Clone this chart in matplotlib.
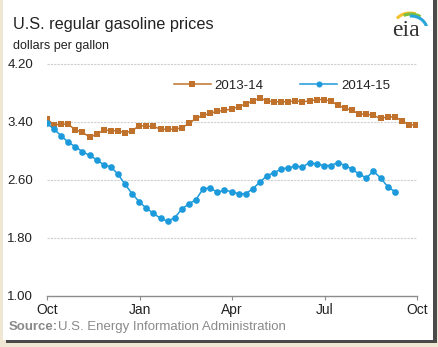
import matplotlib
matplotlib.use("Agg")
import matplotlib.pyplot as plt
from matplotlib.patches import Rectangle, Arc
import numpy as np

plt.rcParams['font.family'] = ['Liberation Sans', 'DejaVu Sans']

# weekly prices, dollars per gallon
prices_2013_14 = [3.44, 3.36, 3.37, 3.37, 3.29, 3.26, 3.19, 3.23, 3.29, 3.28,
                  3.28, 3.25, 3.28, 3.35, 3.34, 3.34, 3.30, 3.30, 3.30, 3.32,
                  3.38, 3.45, 3.49, 3.52, 3.55, 3.56, 3.58, 3.61, 3.65, 3.69,
                  3.73, 3.69, 3.68, 3.68, 3.68, 3.69, 3.68, 3.69, 3.71, 3.71,
                  3.69, 3.63, 3.59, 3.56, 3.51, 3.51, 3.49, 3.45, 3.47, 3.47,
                  3.42, 3.36, 3.36]
prices_2014_15 = [3.38, 3.30, 3.21, 3.12, 3.06, 2.99, 2.94, 2.88, 2.81, 2.78,
                  2.68, 2.54, 2.41, 2.30, 2.21, 2.14, 2.07, 2.03, 2.08, 2.20,
                  2.27, 2.33, 2.48, 2.49, 2.43, 2.46, 2.44, 2.41, 2.41, 2.48,
                  2.57, 2.66, 2.70, 2.75, 2.77, 2.79, 2.78, 2.84, 2.82, 2.80,
                  2.80, 2.84, 2.80, 2.75, 2.68, 2.63, 2.72, 2.63, 2.51, 2.44]
month_labels = ["Oct", "Jan", "Apr", "Jul", "Oct"]
month_weeks = [0, 13.04, 26.07, 39.11, 52.14]
y_ticks = [1.00, 1.80, 2.60, 3.40, 4.20]
series_names = ["2013-14", "2014-15"]

orange = "#C0712C"
blue = "#1C9ADB"

W, H = 439, 347
fig = plt.figure(figsize=(W / 100, H / 100), dpi=100)
fig.patch.set_facecolor("#EFE6D4")

# white panel with shadow
fig.patches.append(Rectangle((6 / W, 4 / H), 431 / W, 1 - 4 / H, transform=fig.transFigure,
                             facecolor="#4A4A4A", edgecolor="none", zorder=-3))
fig.patches.append(Rectangle((3 / W, 7 / H), 430 / W, 1 - 7 / H, transform=fig.transFigure,
                             facecolor="white", edgecolor="none", zorder=-2))

ax = fig.add_axes([47 / W, 1 - 296 / H, 370 / W, 232 / H])
ax.set_facecolor("none")

x1 = np.arange(len(prices_2013_14))
x2 = np.arange(len(prices_2014_15))
ax.plot(x1, prices_2013_14, color=orange, lw=1.1, marker="s", ms=4.4,
        markeredgewidth=0, label=series_names[0], zorder=3)
ax.plot(x2, prices_2014_15, color=blue, lw=1.1, marker="o", ms=4.8,
        markeredgewidth=0, label=series_names[1], zorder=4)

ax.set_xlim(0, 52.14)
ax.set_ylim(1.0, 4.2)
ax.set_yticks(y_ticks)
ax.set_yticklabels([f"{v:.2f}" for v in y_ticks])
ax.set_xticks(month_weeks)
ax.set_xticklabels(month_labels)
for v in y_ticks[1:]:
    ax.axhline(v, color="#CFCFCF", lw=0.8, ls=(0, (2, 1)), zorder=1, clip_on=False)

for s in ["top", "right", "left"]:
    ax.spines[s].set_visible(False)
ax.spines["bottom"].set_color("#8C8C8C")
ax.spines["bottom"].set_linewidth(1.0)
ax.tick_params(axis="y", length=0, pad=10, labelsize=9.5, labelcolor="#222222")
ax.tick_params(axis="x", length=3, color="#8C8C8C", pad=2, labelsize=10, labelcolor="#222222")

leg = ax.legend(loc="upper left", bbox_to_anchor=(0.31, 0.985), ncol=2, frameon=False,
                fontsize=9.5, handlelength=2.8, columnspacing=2.8, handletextpad=0.3,
                markerscale=0.9)
for t in leg.get_texts():
    t.set_color("#222222")

fig.text(13 / W, 1 - 25 / H, "U.S. regular gasoline prices", fontsize=11.7,
         color="#222222", va="center", ha="left")
fig.text(13 / W, 1 - 46 / H, "dollars per gallon", fontsize=9,
         color="#222222", va="center", ha="left")
fig.text(9 / W, 1 - 327 / H, "Source:", fontsize=9.5, fontweight="bold",
         color="#8A8A8A", va="center", ha="left")
fig.text(58 / W, 1 - 327 / H, "U.S. Energy Information Administration", fontsize=9.5,
         color="#8A8A8A", va="center", ha="left")

# eia logo
fig.text(406 / W, 1 - 30 / H, "eia", fontsize=17, family="Liberation Serif",
         color="#333333", va="center", ha="center")
lax = fig.add_axes([386 / W, 1 - 26 / H, 42 / W, 18 / H])
lax.set_xlim(0, 42)
lax.set_ylim(0, 18)
lax.axis("off")
lax.add_patch(Arc((24, 0), 32, 26, theta1=65, theta2=150, color="#F2C12E", lw=2.2))
lax.add_patch(Arc((25, -2), 32, 28, theta1=50, theta2=120, color="#7CBF3C", lw=2.2))
lax.add_patch(Arc((25, -4), 32, 28, theta1=0, theta2=95, color="#2AA5DA", lw=2.2))

fig.savefig("out.png", dpi=100, facecolor=fig.get_facecolor())
